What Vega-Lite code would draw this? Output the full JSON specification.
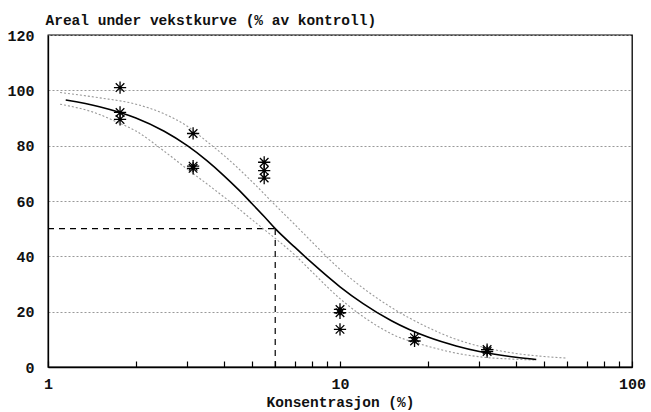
{
  "$schema": "https://vega.github.io/schema/vega-lite/v6.json",
  "autosize": "none",
  "width": 584,
  "height": 332,
  "padding": {"left": 48, "top": 35, "right": 19, "bottom": 45},
  "background": "white",
  "config": {
    "view": {"stroke": "#000", "strokeWidth": 1.3},
    "font": "Liberation Mono",
    "axis": {"labelFont": "Liberation Mono", "titleFont": "Liberation Mono", "labelFontWeight": "bold", "titleFontWeight": "bold", "labelColor": "#111", "titleColor": "#111", "labelFontSize": 15, "titleFontSize": 14.5}
  },
  "datasets": {
    "points": [
      {"conc": 1.765, "value": 101.0},
      {"conc": 1.765, "value": 92.0},
      {"conc": 1.765, "value": 89.5},
      {"conc": 3.14, "value": 84.4},
      {"conc": 3.14, "value": 72.6},
      {"conc": 3.14, "value": 71.8},
      {"conc": 5.5, "value": 74.0},
      {"conc": 5.5, "value": 71.0},
      {"conc": 5.5, "value": 68.3},
      {"conc": 10, "value": 20.8},
      {"conc": 10, "value": 19.6},
      {"conc": 10, "value": 13.6},
      {"conc": 18.0, "value": 10.6},
      {"conc": 18.0, "value": 9.4},
      {"conc": 31.9, "value": 6.3},
      {"conc": 31.9, "value": 5.6}
    ],
    "curve": [
      {"conc": 1.15, "value": 96.5}, {"conc": 1.5, "value": 94.1}, {"conc": 1.765, "value": 92.0},
      {"conc": 2, "value": 90.0}, {"conc": 2.5, "value": 85.2}, {"conc": 3, "value": 80.0},
      {"conc": 3.5, "value": 74.6}, {"conc": 4, "value": 69.2}, {"conc": 4.5, "value": 64.0},
      {"conc": 5, "value": 59.0}, {"conc": 5.5, "value": 54.4}, {"conc": 6, "value": 50.0},
      {"conc": 7, "value": 43.3}, {"conc": 8, "value": 37.7}, {"conc": 10, "value": 29.0},
      {"conc": 12, "value": 22.9}, {"conc": 15, "value": 16.7}, {"conc": 20, "value": 10.8},
      {"conc": 25, "value": 7.6}, {"conc": 30, "value": 5.6}, {"conc": 40, "value": 3.5},
      {"conc": 47, "value": 2.7}
    ],
    "bands": [
      {"band": "upper", "conc": 1.1, "value": 99.2}, {"band": "upper", "conc": 1.5, "value": 97.3},
      {"band": "upper", "conc": 2, "value": 95.0}, {"band": "upper", "conc": 2.5, "value": 91.5},
      {"band": "upper", "conc": 3, "value": 87.0}, {"band": "upper", "conc": 3.5, "value": 81.5},
      {"band": "upper", "conc": 4, "value": 76.5}, {"band": "upper", "conc": 5, "value": 67.0},
      {"band": "upper", "conc": 6, "value": 58.5}, {"band": "upper", "conc": 7, "value": 51.5},
      {"band": "upper", "conc": 8, "value": 45.3}, {"band": "upper", "conc": 10, "value": 35.3},
      {"band": "upper", "conc": 12, "value": 28.5}, {"band": "upper", "conc": 15, "value": 21.5},
      {"band": "upper", "conc": 20, "value": 14.3}, {"band": "upper", "conc": 25, "value": 10.0},
      {"band": "upper", "conc": 30, "value": 7.5}, {"band": "upper", "conc": 40, "value": 4.9},
      {"band": "upper", "conc": 50, "value": 3.8}, {"band": "upper", "conc": 60, "value": 3.2},
      {"band": "lower", "conc": 1.1, "value": 95.0}, {"band": "lower", "conc": 1.5, "value": 91.3},
      {"band": "lower", "conc": 1.7, "value": 88.8}, {"band": "lower", "conc": 2, "value": 85.3},
      {"band": "lower", "conc": 2.5, "value": 78.0}, {"band": "lower", "conc": 3, "value": 71.5},
      {"band": "lower", "conc": 3.5, "value": 66.2}, {"band": "lower", "conc": 4, "value": 61.5},
      {"band": "lower", "conc": 4.5, "value": 57.2}, {"band": "lower", "conc": 5, "value": 53.2},
      {"band": "lower", "conc": 6, "value": 46.5}, {"band": "lower", "conc": 7, "value": 40.5},
      {"band": "lower", "conc": 8, "value": 34.5}, {"band": "lower", "conc": 10, "value": 24.7},
      {"band": "lower", "conc": 12, "value": 18.2}, {"band": "lower", "conc": 15, "value": 12.0},
      {"band": "lower", "conc": 20, "value": 7.5}, {"band": "lower", "conc": 25, "value": 5.0},
      {"band": "lower", "conc": 30, "value": 3.7}, {"band": "lower", "conc": 40, "value": 2.8},
      {"band": "lower", "conc": 47, "value": 2.5}
    ],
    "ec50": [
      {"conc": 1, "value": 50, "conc2": 6.0, "value2": 50},
      {"conc": 6.0, "value": 0, "conc2": 6.0, "value2": 50}
    ]
  },
  "encoding": {
    "x": {
      "field": "conc", "type": "quantitative",
      "scale": {"type": "log", "domain": [1, 100], "nice": false},
      "axis": {
        "title": "Konsentrasjon (%)",
        "values": [1, 2, 3, 4, 5, 6, 7, 8, 9, 10, 20, 30, 40, 50, 60, 70, 80, 90, 100],
        "labelExpr": "(datum.value == 1 || datum.value == 10 || datum.value == 100) ? datum.label : ''",
        "labelOverlap": false,
        "labelFlush": false,
        "grid": false,
        "zindex": 2,
        "domainColor": "#000",
        "domainWidth": 1.3,
        "ticks": true,
        "tickColor": "#000",
        "tickWidth": 1.2,
        "tickSize": -6,
        "tickOpacity": 1,
        "labelPadding": 15,
        "titlePadding": 4
      }
    },
    "y": {
      "field": "value", "type": "quantitative",
      "scale": {"domain": [0, 120], "nice": false, "zero": false},
      "axis": {
        "title": "Areal under vekstkurve (% av kontroll)",
        "titleAngle": 0,
        "titleAlign": "left",
        "titleBaseline": "alphabetic",
        "titleX": -3,
        "titleY": -11,
        "values": [0, 20, 40, 60, 80, 100, 120],
        "grid": true,
        "gridDash": [2, 2],
        "gridColor": "#999",
        "gridWidth": 1,
        "ticks": false,
        "domainColor": "#000",
        "domainWidth": 1.3,
        "labelPadding": 14
      }
    }
  },
  "layer": [
    {
      "data": {"name": "ec50"},
      "mark": {"type": "rule", "color": "#000", "strokeDash": [6, 5], "strokeWidth": 1.2},
      "encoding": {
        "x2": {"field": "conc2"},
        "y2": {"field": "value2"}
      }
    },
    {
      "data": {"name": "bands"},
      "mark": {"type": "line", "color": "#999", "strokeDash": [2, 2], "strokeWidth": 1.1, "interpolate": "monotone"},
      "encoding": {"detail": {"field": "band"}}
    },
    {
      "data": {"name": "curve"},
      "mark": {"type": "line", "color": "#000", "strokeWidth": 1.6, "interpolate": "monotone"},
      "encoding": {}
    },
    {
      "data": {"name": "points"},
      "mark": {
        "type": "point",
        "shape": "M0,-1L0,1M-1,0L1,0M-0.7,-0.7L0.7,0.7M-0.7,0.7L0.7,-0.7",
        "filled": false,
        "stroke": "#000",
        "strokeWidth": 1.3,
        "size": 150,
        "opacity": 1
      },
      "encoding": {}
    }
  ]
}
